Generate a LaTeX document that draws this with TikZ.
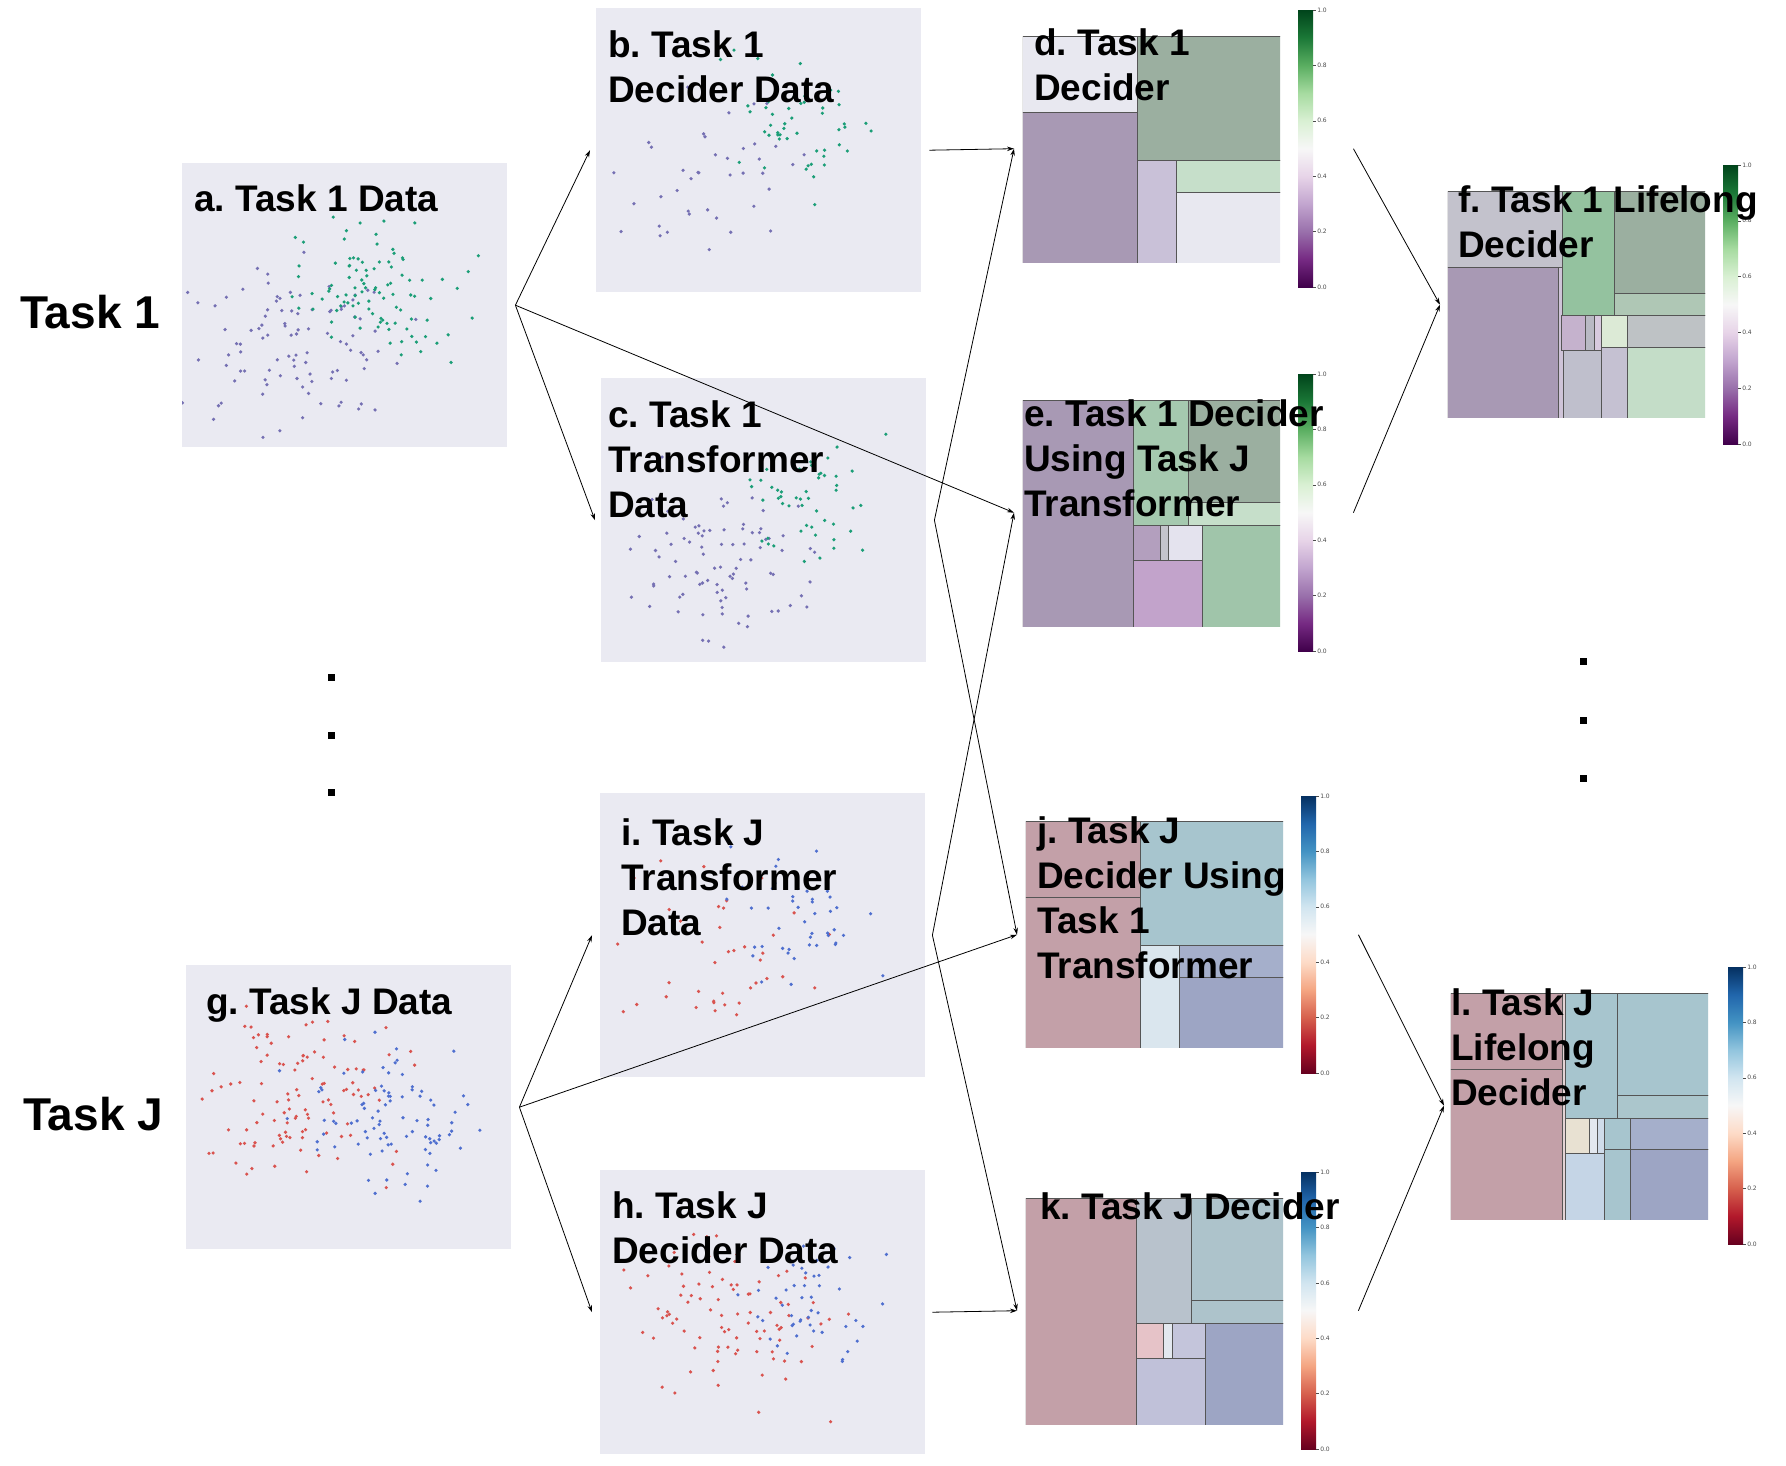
\documentclass[tikz,border=0pt]{standalone}
\usepackage{fontspec}
\setmainfont{Liberation Sans}
\newfontfamily\tickfont{DejaVu Sans}
\usetikzlibrary{arrows.meta}
\frenchspacing
% panel colours
\definecolor{scatbg}{HTML}{EAEAF2}
\definecolor{ptpurp}{HTML}{7570B3}
\definecolor{ptgreen}{HTML}{1B9E77}
\definecolor{ptred}{HTML}{D9534F}
\definecolor{ptblue}{HTML}{4F6FCF}
\definecolor{celledge}{HTML}{555555}
% decider cell colours
\definecolor{bgl}{HTML}{E8E8F0}
\definecolor{pdk}{HTML}{A899B4}
\definecolor{ggr}{HTML}{9BAFA0}
\definecolor{plav}{HTML}{C9C1D8}
\definecolor{glt}{HTML}{C6DFCA}
\definecolor{gmid}{HTML}{A5C9AF}
\definecolor{psm}{HTML}{B39FBE}
\definecolor{gstrip}{HTML}{C4C4CC}
\definecolor{bgl2}{HTML}{E4E3EE}
\definecolor{ppk}{HTML}{C2A3CB}
\definecolor{grt}{HTML}{A0C5AA}
\definecolor{fgl}{HTML}{C3C2CC}
\definecolor{fstrip}{HTML}{CFC4D8}
\definecolor{fgm}{HTML}{94C29F}
\definecolor{fgl2}{HTML}{AFC7B5}
\definecolor{fp1}{HTML}{C5B2CD}
\definecolor{fg1}{HTML}{B9B9C4}
\definecolor{fp2}{HTML}{D8CADF}
\definecolor{fgl3}{HTML}{DCEAD6}
\definecolor{fgy}{HTML}{BEC2C5}
\definecolor{fbl}{HTML}{BFBFCC}
\definecolor{fbl2}{HTML}{C5C1D2}
\definecolor{fglt}{HTML}{C4DDC8}
\definecolor{rpk}{HTML}{C3A0A8}
\definecolor{tea}{HTML}{A7C5CE}
\definecolor{lbl}{HTML}{DAE6EE}
\definecolor{bgy}{HTML}{A5AFCB}
\definecolor{bgd}{HTML}{9DA5C4}
\definecolor{kgb}{HTML}{B8C2CC}
\definecolor{tea2}{HTML}{ADC3CB}
\definecolor{pkl}{HTML}{E6C3C8}
\definecolor{kli}{HTML}{E3E8EF}
\definecolor{lav}{HTML}{C4C5DB}
\definecolor{lav2}{HTML}{C0C1D9}
\definecolor{lstrip}{HTML}{E4D3D5}
\definecolor{tea3}{HTML}{ABC6CC}
\definecolor{beige}{HTML}{E8E1D2}
\definecolor{lbl2}{HTML}{D0DCEA}
\definecolor{lbl3}{HTML}{C5D5E6}
% colormaps
\definecolor{pg0}{HTML}{40004B}\definecolor{pg1}{HTML}{762A83}\definecolor{pg2}{HTML}{9970AB}
\definecolor{pg3}{HTML}{C2A5CF}\definecolor{pg4}{HTML}{E7D4E8}\definecolor{pg5}{HTML}{F7F7F7}
\definecolor{pg6}{HTML}{D9F0D3}\definecolor{pg7}{HTML}{A6DBA0}\definecolor{pg8}{HTML}{5AAE61}
\definecolor{pg9}{HTML}{1B7837}\definecolor{pg10}{HTML}{00441B}
\definecolor{rb0}{HTML}{67001F}\definecolor{rb1}{HTML}{B2182B}\definecolor{rb2}{HTML}{D6604D}
\definecolor{rb3}{HTML}{F4A582}\definecolor{rb4}{HTML}{FDDBC7}\definecolor{rb5}{HTML}{F7F7F7}
\definecolor{rb6}{HTML}{D1E5F0}\definecolor{rb7}{HTML}{92C5DE}\definecolor{rb8}{HTML}{4393C3}
\definecolor{rb9}{HTML}{2166AC}\definecolor{rb10}{HTML}{053061}
\pgfdeclareverticalshading{prgn}{100bp}{color(0bp)=(pg0); color(25bp)=(pg0); color(30bp)=(pg1); color(35bp)=(pg2); color(40bp)=(pg3); color(45bp)=(pg4); color(50bp)=(pg5); color(55bp)=(pg6); color(60bp)=(pg7); color(65bp)=(pg8); color(70bp)=(pg9); color(75bp)=(pg10); color(100bp)=(pg10)}
\pgfdeclareverticalshading{rdbu}{100bp}{color(0bp)=(rb0); color(25bp)=(rb0); color(30bp)=(rb1); color(35bp)=(rb2); color(40bp)=(rb3); color(45bp)=(rb4); color(50bp)=(rb5); color(55bp)=(rb6); color(60bp)=(rb7); color(65bp)=(rb8); color(70bp)=(rb9); color(75bp)=(rb10); color(100bp)=(rb10)}
% helpers
\newcommand\scatpts[8]{%
  \foreach \k in {1,...,#7}{%
    \pgfmathsetmacro\px{#1+325*(#3+#5*(rand+rand+rand))}%
    \pgfmathsetmacro\py{#2+284*(#4+#6*(rand+rand+rand))}%
    \fill[#8] (\px,\py) circle (1.8pt);}}
\newcommand\dcell[5]{\filldraw[fill=#1,draw=celledge,line width=0.9pt] (#2,#3) rectangle (#4,#5);}
\newcommand\cbar[6]{%
  \shade[shading=#6] (#2,#3) rectangle (#4,#5);
  \foreach \t [count=\c from 0] in {0.0,0.2,0.4,0.6,0.8,1.0}{%
    \pgfmathsetmacro\ty{#5-(#5-#3)*\c/5}%
    \draw[black!70,line width=0.5pt] (#4,\ty) -- ++(3,0)
      node[anchor=west,inner sep=1pt,text=black!70,font=\tickfont\fontsize{6}{7}\selectfont,name=#1t\c] {\t};}}
\begin{document}
\begin{tikzpicture}[x=1pt,y=-1pt,
  scat/.style={fill=scatbg,draw=none,inner sep=0,minimum width=325pt,minimum height=284pt,anchor=north west},
  dec/.style={draw=none,inner sep=0,anchor=north west},
  ttl/.style={anchor=base west,inner sep=0,font=\fontsize{37}{45}\selectfont\bfseries},
  big/.style={anchor=base west,inner sep=0,font=\fontsize{46}{52}\selectfont\bfseries},
  arr/.style={line width=0.8pt,-{Stealth[length=7pt,width=4.5pt]}},
  dot/.style={fill=black,draw=none,minimum size=7pt,inner sep=0}]
\fill[white] (0,0) rectangle (1786,1465);
\useasboundingbox (0,0) rectangle (1786,1465);
\pgfmathsetseed{7}
% ---------- scatter panels ----------
\node[scat] (a) at (182,163) {};
\node[scat] (b) at (596,8) {};
\node[scat] (c) at (601,378) {};
\node[scat] (g) at (186,965) {};
\node[scat] (i) at (600,793) {};
\node[scat] (h) at (600,1170) {};
\begin{scope}\clip (a.north west) rectangle (a.south east);
  \scatpts{182}{163}{0.34}{0.62}{0.16}{0.14}{100}{ptpurp}
  \scatpts{182}{163}{0.62}{0.42}{0.13}{0.12}{100}{ptgreen}
\end{scope}
\begin{scope}\clip (b.north west) rectangle (b.south east);
  \scatpts{596}{8}{0.33}{0.63}{0.15}{0.15}{40}{ptpurp}
  \scatpts{596}{8}{0.62}{0.42}{0.12}{0.13}{50}{ptgreen}
\end{scope}
\begin{scope}\clip (c.north west) rectangle (c.south east);
  \scatpts{601}{378}{0.38}{0.62}{0.14}{0.13}{90}{ptpurp}
  \scatpts{601}{378}{0.65}{0.40}{0.10}{0.11}{50}{ptgreen}
\end{scope}
\begin{scope}\clip (g.north west) rectangle (g.south east);
  \scatpts{186}{965}{0.36}{0.50}{0.15}{0.14}{110}{ptred}
  \scatpts{186}{965}{0.64}{0.55}{0.13}{0.14}{90}{ptblue}
\end{scope}
\begin{scope}\clip (i.north west) rectangle (i.south east);
  \scatpts{600}{793}{0.34}{0.55}{0.14}{0.14}{40}{ptred}
  \scatpts{600}{793}{0.62}{0.46}{0.11}{0.13}{45}{ptblue}
\end{scope}
\begin{scope}\clip (h.north west) rectangle (h.south east);
  \scatpts{600}{1170}{0.38}{0.53}{0.15}{0.13}{90}{ptred}
  \scatpts{600}{1170}{0.66}{0.45}{0.11}{0.11}{50}{ptblue}
\end{scope}
% ---------- decider panels ----------
\node[dec,minimum width=291pt,minimum height=277pt] (d) at (1022,10) {};
\node[dec,minimum width=291pt,minimum height=277pt] (e) at (1022,374) {};
\node[dec,minimum width=291pt,minimum height=279pt] (f) at (1447,165) {};
\node[dec,minimum width=291pt,minimum height=277pt] (j) at (1025,796) {};
\node[dec,minimum width=291pt,minimum height=277pt] (k) at (1025,1172) {};
\node[dec,minimum width=293pt,minimum height=277pt] (l) at (1450,967) {};
% d
\begin{scope}\clip (1022.8,36.8) rectangle (1280.2,262.2);
\dcell{bgl}{1022}{36}{1137}{112}
\dcell{pdk}{1022}{112}{1137}{263}
\dcell{ggr}{1137}{36}{1281}{160}
\dcell{plav}{1137}{160}{1176}{263}
\dcell{glt}{1176}{160}{1281}{192}
\dcell{bgl}{1176}{192}{1281}{263}
\end{scope}
% e
\begin{scope}\clip (1022.8,400.8) rectangle (1280.2,626.2);
\dcell{pdk}{1022}{400}{1133}{627}
\dcell{gmid}{1133}{400}{1188}{525}
\dcell{ggr}{1188}{400}{1281}{502}
\dcell{glt}{1188}{502}{1281}{525}
\dcell{psm}{1133}{525}{1160}{560}
\dcell{gstrip}{1160}{525}{1168}{560}
\dcell{bgl2}{1168}{525}{1202}{560}
\dcell{ppk}{1133}{560}{1202}{627}
\dcell{grt}{1202}{525}{1281}{627}
\end{scope}
% f
\begin{scope}\clip (1447.8,191.8) rectangle (1705.2,417.2);
\dcell{fgl}{1447}{191}{1562}{267}
\dcell{pdk}{1447}{267}{1558}{418}
\dcell{fstrip}{1558}{267}{1563}{418}
\dcell{fgm}{1562}{191}{1614}{315}
\dcell{ggr}{1614}{191}{1706}{293}
\dcell{fgl2}{1614}{293}{1706}{315}
\dcell{fp1}{1561}{315}{1585}{350}
\dcell{fg1}{1585}{315}{1594}{350}
\dcell{fp2}{1594}{315}{1601}{350}
\dcell{fgl3}{1601}{315}{1627}{347}
\dcell{fgy}{1627}{315}{1706}{347}
\dcell{fbl}{1563}{350}{1601}{418}
\dcell{fbl2}{1601}{347}{1627}{418}
\dcell{fglt}{1627}{347}{1706}{418}
\end{scope}
% j
\begin{scope}\clip (1025.8,821.8) rectangle (1283.2,1047.2);
\dcell{rpk}{1025}{821}{1140}{897}
\dcell{rpk}{1025}{897}{1140}{1048}
\dcell{tea}{1140}{821}{1284}{945}
\dcell{lbl}{1140}{945}{1179}{1048}
\dcell{bgy}{1179}{945}{1284}{977}
\dcell{bgd}{1179}{977}{1284}{1048}
\end{scope}
% k
\begin{scope}\clip (1025.8,1198.8) rectangle (1283.2,1424.2);
\dcell{rpk}{1025}{1198}{1136}{1425}
\dcell{kgb}{1136}{1198}{1191}{1323}
\dcell{tea2}{1191}{1198}{1284}{1300}
\dcell{tea2}{1191}{1300}{1284}{1323}
\dcell{pkl}{1136}{1323}{1163}{1358}
\dcell{kli}{1163}{1323}{1172}{1358}
\dcell{lav}{1172}{1323}{1205}{1358}
\dcell{lav2}{1136}{1358}{1205}{1425}
\dcell{bgd}{1205}{1323}{1284}{1425}
\end{scope}
% l
\begin{scope}\clip (1450.8,993.8) rectangle (1708.2,1219.2);
\dcell{rpk}{1450}{993}{1562}{1069}
\dcell{rpk}{1450}{1069}{1562}{1220}
\dcell{lstrip}{1562}{993}{1565}{1220}
\dcell{tea}{1565}{993}{1617}{1118}
\dcell{tea}{1617}{993}{1709}{1095}
\dcell{tea3}{1617}{1095}{1709}{1118}
\dcell{beige}{1565}{1118}{1589}{1153}
\dcell{kli}{1589}{1118}{1597}{1153}
\dcell{lbl2}{1597}{1118}{1604}{1153}
\dcell{lbl3}{1565}{1153}{1604}{1220}
\dcell{tea}{1604}{1118}{1630}{1149}
\dcell{tea}{1604}{1149}{1630}{1220}
\dcell{bgy}{1630}{1118}{1709}{1149}
\dcell{bgd}{1630}{1149}{1709}{1220}
\end{scope}
% colorbars
\cbar{d}{1298}{10}{1313}{287}{prgn}
\cbar{e}{1298}{374}{1313}{651}{prgn}
\cbar{f}{1723}{165}{1738}{444}{prgn}
\cbar{j}{1301}{796}{1316}{1073}{rdbu}
\cbar{k}{1301}{1172}{1316}{1449}{rdbu}
\cbar{l}{1728}{967}{1743}{1244}{rdbu}
% ---------- titles ----------
\node[ttl] (ta1) at (194,211) {a. Task 1 Data};
\node[ttl] (tb1) at (608,57) {b. Task 1};
\node[ttl] (tb2) at (608,102) {Decider Data};
\node[ttl] (tc1) at (608,427) {c. Task 1};
\node[ttl] (tc2) at (608,472) {Transformer};
\node[ttl] (tc3) at (608,517) {Data};
\node[ttl] (tg1) at (206,1014) {g. Task J Data};
\node[ttl] (ti1) at (621,845) {i. Task J};
\node[ttl] (ti2) at (621,890) {Transformer};
\node[ttl] (ti3) at (621,935) {Data};
\node[ttl] (th1) at (612,1218) {h. Task J};
\node[ttl] (th2) at (612,1263) {Decider Data};
\node[ttl] (td1) at (1034,55) {d. Task 1};
\node[ttl] (td2) at (1034,100) {Decider};
\node[ttl] (te1) at (1024,426) {e. Task 1 Decider};
\node[ttl] (te2) at (1024,471) {Using Task J};
\node[ttl] (te3) at (1024,516) {Transformer};
\node[ttl] (tf1) at (1458,212) {f. Task 1 Lifelong};
\node[ttl] (tf2) at (1458,257) {Decider};
\node[ttl] (tj1) at (1037,843) {j. Task J};
\node[ttl] (tj2) at (1037,888) {Decider Using};
\node[ttl] (tj3) at (1037,933) {Task 1};
\node[ttl] (tj4) at (1037,978) {Transformer};
\node[ttl] (tk1) at (1040,1219) {k. Task J Decider};
\node[ttl] (tl1) at (1451,1015) {l. Task J};
\node[ttl] (tl2) at (1451,1060) {Lifelong};
\node[ttl] (tl3) at (1451,1105) {Decider};
\node[big] (task1) at (20,328) {Task 1};
\node[big] (taskJ) at (23,1130) {Task J};
% ellipsis dots
\node[dot] (dl1) at (331,677) {};
\node[dot] (dl2) at (331,735) {};
\node[dot] (dl3) at (331,792) {};
\node[dot] (dr1) at (1583,661) {};
\node[dot] (dr2) at (1583,720) {};
\node[dot] (dr3) at (1583,778) {};
% ---------- connectors ----------
\coordinate (av) at ([xshift=8pt]a.east);
\coordinate (gv) at ([xshift=8pt]g.east);
\coordinate (cv) at ([xshift=8pt]c.east);
\coordinate (iv) at ([xshift=7pt]i.east);
\draw[arr] (av) -- ([xshift=-6pt]b.west);
\draw[arr] (av) -- ([xshift=-6pt]c.west);
\draw[arr] (av) -- ([xshift=-8pt]e.west);
\draw[arr] ([xshift=8pt]b.east) -- ([xshift=-8pt]d.west);
\draw[arr] (cv) -- ([xshift=-8pt]d.west);
\draw[arr] (cv) -- ([xshift=-8pt]j.west);
\draw[arr] (gv) -- ([xshift=-8pt]i.west);
\draw[arr] (gv) -- ([xshift=-8pt]h.west);
\draw[arr] (gv) -- ([xshift=-8pt]j.west);
\draw[arr] (iv) -- ([xshift=-8pt]e.west);
\draw[arr] (iv) -- ([xshift=-8pt]k.west);
\draw[arr] ([xshift=7pt]h.east) -- ([xshift=-8pt]k.west);
\draw[arr] ([xshift=40pt]d.east) -- ([xshift=-7pt]f.west);
\draw[arr] ([xshift=40pt]e.east) -- ([xshift=-7pt]f.west);
\draw[arr] ([xshift=42pt]j.east) -- ([xshift=-6pt]l.west);
\draw[arr] ([xshift=42pt]k.east) -- ([xshift=-6pt]l.west);
\end{tikzpicture}
\end{document}
